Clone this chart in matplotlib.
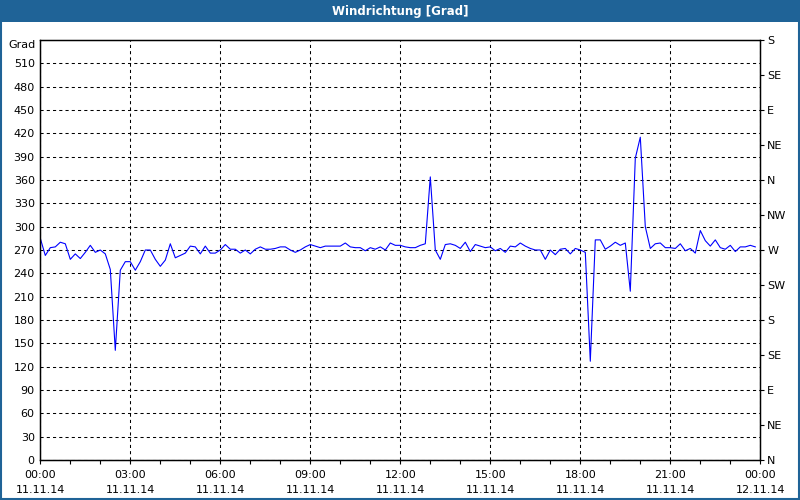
import numpy as np
import matplotlib
matplotlib.use("Agg")
import matplotlib.pyplot as plt
from matplotlib.patches import Rectangle

# wind direction in degrees, one value every 10 minutes from 11.11.14 00:00
wind_dir = [
    285, 263, 273, 274, 280, 278, 258, 265, 259, 267, 276, 267, 270, 265, 245, 141,
    244, 255, 255, 244, 255, 270, 270, 258, 249, 257, 278, 260, 263, 266, 275, 274,
    265, 275, 266, 266, 270, 277, 271, 271, 266, 270, 265, 271, 274, 271, 271, 272,
    274, 274, 270, 267, 270, 274, 277, 275, 273, 275, 275, 275, 275, 279, 274, 273,
    273, 269, 273, 271, 274, 270, 279, 276, 276, 274, 273, 273, 276, 278, 364, 270,
    258, 277, 278, 276, 272, 280, 268, 277, 275, 273, 274, 269, 272, 267, 275, 274,
    279, 275, 272, 270, 270, 258, 270, 264, 271, 272, 265, 272, 270, 267, 127, 283,
    283, 271, 275, 280, 276, 279, 217, 388, 415, 300, 272, 278, 279, 273, 273, 272,
    278, 269, 272, 266, 295, 282, 275, 283, 273, 271, 276, 268, 274, 274, 276, 274,
]
hours = np.arange(len(wind_dir)) / 6.0

left_ticks = list(range(0, 540, 30))
compass = ["N", "NE", "E", "SE", "S", "SW", "W", "NW", "N", "NE", "E", "SE", "S"]
compass_deg = list(range(0, 541, 45))
time_labels = ["00:00\n11.11.14", "03:00\n11.11.14", "06:00\n11.11.14", "09:00\n11.11.14",
               "12:00\n11.11.14", "15:00\n11.11.14", "18:00\n11.11.14", "21:00\n11.11.14",
               "00:00\n12.11.14"]
title = "Windrichtung [Grad]"
bar_blue = "#1f6397"

fig = plt.figure(figsize=(8, 5), dpi=100)
fig.patch.set_facecolor("white")

# title bar and frame
fig.add_artist(Rectangle((0, 1 - 22 / 500), 1, 22 / 500, transform=fig.transFigure,
                         facecolor=bar_blue, edgecolor="none"))
fig.add_artist(Rectangle((0.001, 0.002), 0.998, 0.996, transform=fig.transFigure,
                         facecolor="none", edgecolor=bar_blue, linewidth=1.5))
fig.text(0.5, 1 - 11 / 500, title, color="white", fontsize=8.5, fontweight="bold",
         ha="center", va="center")

ax = fig.add_axes([40.3 / 800, 40 / 500, 720 / 800, 420 / 500])
ax.plot(hours, wind_dir, color="#0000ff", linewidth=0.8)
ax.set_xlim(0, 24)
ax.set_ylim(0, 540)

ax.set_yticks(left_ticks)
ax.set_yticklabels([str(v) for v in left_ticks], fontsize=8)
ax.tick_params(axis="y", length=0, pad=4)
ax.text(-0.006, 533, "Grad", fontsize=8, ha="right", va="center",
        transform=ax.get_yaxis_transform())

ax.set_xticks(range(0, 25, 3))
ax.set_xticklabels(time_labels, fontsize=8, linespacing=1.6)
ax.set_xticks(range(0, 25), minor=True)
ax.tick_params(axis="x", which="both", length=3, width=0.8, pad=4, direction="out")

ax.grid(True, color="black", linestyle=(0, (3, 3)), linewidth=0.75)
for s in ax.spines.values():
    s.set_color("black")
    s.set_linewidth(1.0)

ax2 = ax.twinx()
ax2.set_ylim(0, 540)
ax2.set_yticks(compass_deg)
ax2.set_yticklabels(compass, fontsize=8)
ax2.tick_params(axis="y", length=3, width=0.8, pad=2, direction="out")

fig.savefig("out.png", dpi=100, facecolor="white")
